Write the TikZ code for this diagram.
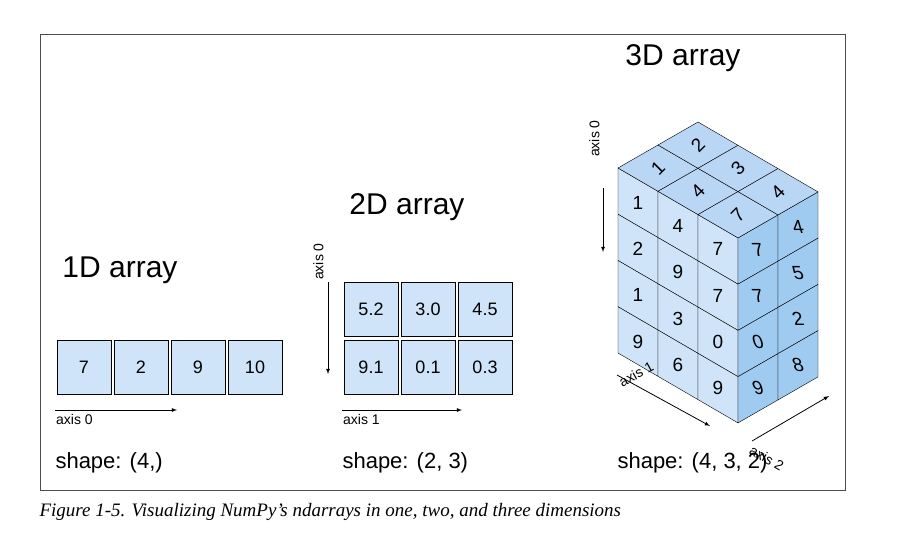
\documentclass[tikz,border=0pt]{standalone}
\usepackage{fontspec}
\setmainfont{Liberation Sans}
\newfontfamily\capfont{Liberation Serif}
\definecolor{cellblue}{HTML}{CFE4F8}
\definecolor{topblue}{HTML}{B9D6F4}
\definecolor{sideblue}{HTML}{9FCBF0}

\begin{document}
\begin{tikzpicture}[x=1pt, y=-1pt,
  cell/.style={draw, fill=cellblue, minimum size=54pt, inner sep=0pt, font=\fontsize{18}{18}\selectfont},
  title/.style={font=\fontsize{30}{30}\selectfont},
  shapelabel/.style={anchor=west, font=\fontsize{22}{22}\selectfont},
  axislabel/.style={font=\fontsize{14}{14}\selectfont, inner sep=1pt},
  axisarrow/.style={-latex, thick}]

\useasboundingbox (0,0) rectangle (902,554);
\draw [line width=0.8pt, draw=black!70] (40,34) rectangle (845,490);

% 1D array
\node [title] (t1) at (120,270) {1D array};
\node [cell] (a0) at (84,367) {7};
\node [cell] (a1) at (141,367) {2};
\node [cell] (a2) at (198,367) {9};
\node [cell] (a3) at (255,367) {10};
\coordinate (ax1s) at (55,410);
\coordinate (ax1e) at (177,410);
\draw [axisarrow] (ax1s) to (ax1e);
\node [axislabel, anchor=north west] (l1) at (55,413) {axis 0};
\node [shapelabel] (s1) at (52,463) {shape: (4,)};

% 2D array
\node [title] (t2) at (407,207) {2D array};
\node [cell] (b00) at (371,309) {5.2};
\node [cell] (b01) at (428,309) {3.0};
\node [cell] (b02) at (485,309) {4.5};
\node [cell] (b10) at (371,367) {9.1};
\node [cell] (b11) at (428,367) {0.1};
\node [cell] (b12) at (485,367) {0.3};
\coordinate (bx0s) at (328,282);
\coordinate (bx0e) at (328,374);
\draw [axisarrow] (bx0s) to (bx0e);
\node [axislabel, rotate=90, anchor=north west] (l2a) at (312,281) {axis 0};
\coordinate (bx1s) at (342,410);
\coordinate (bx1e) at (462,410);
\draw [axisarrow] (bx1s) to (bx1e);
\node [axislabel, anchor=north west] (l2b) at (342,413) {axis 1};
\node [shapelabel] (s2) at (339,463) {shape: (2, 3)};

% 3D array
\node [title] (t3) at (683,58) {3D array};
\begin{scope}[shift={(618,168)}, x={(40pt,-23.3pt)}, y={(40pt,23pt)}, z={(0pt,-46.25pt)},
  every node/.style={font=\fontsize{19}{19}\selectfont}]
  % front face
  \foreach \i/\j/\v in {0/0/1,0/1/4,0/2/7,1/0/2,1/1/9,1/2/7,2/0/1,2/1/3,2/2/0,3/0/9,3/1/6,3/2/9}
    \filldraw [fill=cellblue] (\j,0,\i) -- (\j+1,0,\i) -- (\j+1,0,\i+1) -- (\j,0,\i+1) -- cycle
      node at (\j+0.5,0,\i+0.5) {\v};
  % right face
  \foreach \i/\k/\v in {0/0/7,0/1/4,1/0/7,1/1/5,2/0/0,2/1/2,3/0/9,3/1/8}
    \filldraw [fill=sideblue] (3,\k,\i) -- (3,\k+1,\i) -- (3,\k+1,\i+1) -- (3,\k,\i+1) -- cycle
      node [xslant=-0.3] at (3,\k+0.5,\i+0.5) {\v};
  % top face
  \foreach \j/\k/\v in {0/0/1,0/1/2,1/0/4,1/1/3,2/0/7,2/1/4}
    \filldraw [fill=topblue] (\j,\k,0) -- (\j+1,\k,0) -- (\j+1,\k+1,0) -- (\j,\k+1,0) -- cycle
      node [rotate=45] at (\j+0.5,\k+0.5,0) {\v};
\end{scope}
\coordinate (cx0s) at (603,188);
\coordinate (cx0e) at (603,252);
\draw [axisarrow] (cx0s) to (cx0e);
\node [axislabel, rotate=90, anchor=north west] (l3a) at (588,158) {axis 0};
\coordinate (cx1s) at (617,375);
\coordinate (cx1e) at (710,426);
\draw [axisarrow] (cx1s) to (cx1e);
\node [axislabel, rotate=28.5, anchor=north west] (l3b) at (616,378) {axis 1};
\coordinate (cx2s) at (752,441);
\coordinate (cx2e) at (829,396);
\draw [axisarrow] (cx2s) to (cx2e);
\node [axislabel, rotate=-30, anchor=north west] (l3c) at (753,443) {axis 2};
\node [shapelabel] (s3) at (614,463) {shape: (4, 3, 2)};

\node [anchor=west, font=\capfont\itshape\fontsize{19}{19}\selectfont] (cap) at (36,512)
  {Figure 1-5. Visualizing NumPy’s ndarrays in one, two, and three dimensions};
\end{tikzpicture}
\end{document}
